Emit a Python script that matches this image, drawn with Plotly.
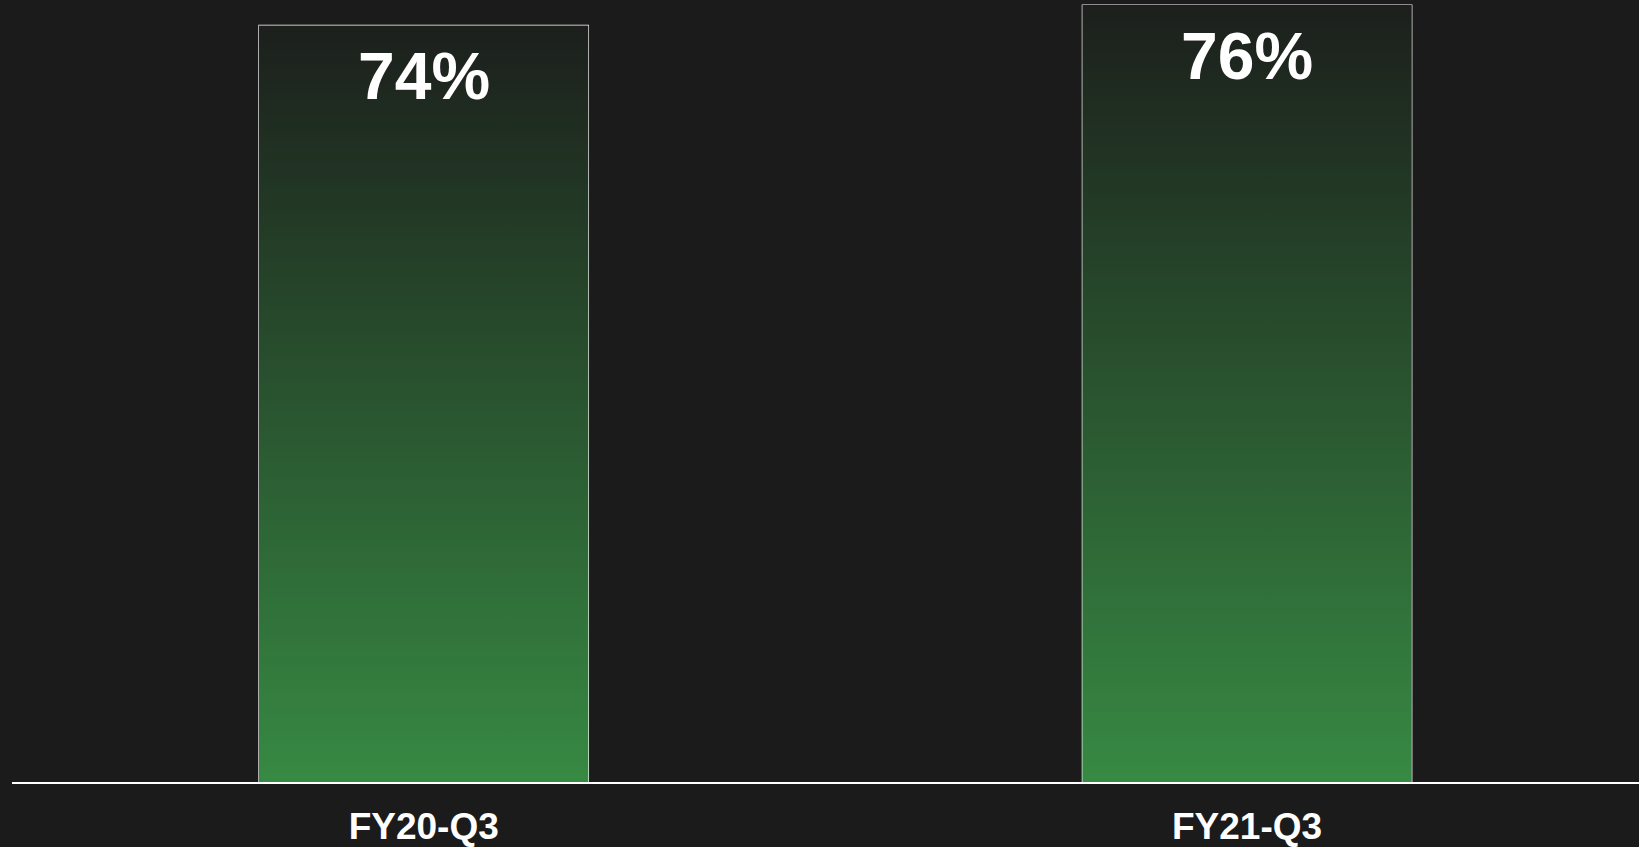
import plotly.graph_objects as go

categories = ["FY20-Q3", "FY21-Q3"]
values = [74, 76]
labels = ["74%", "76%"]

BG = "#1b1b1b"
GREEN = "#378a43"
DARK = "#1c1f1c"
BAR_W = 0.40
xpos = list(range(len(categories)))

fig = go.Figure()

# gradient fill for each bar
for i, v in zip(xpos, values):
    x0, x1 = i - BAR_W / 2, i + BAR_W / 2
    fig.add_trace(go.Scatter(
        x=[x0, x1, x1, x0, x0], y=[0, 0, v, v, 0],
        mode="lines", line=dict(width=0), fill="toself",
        fillgradient=dict(type="vertical", start=0, stop=v,
                          colorscale=[[0, GREEN], [1, DARK]]),
        hoverinfo="skip", showlegend=False,
    ))

# bar outlines
fig.add_trace(go.Bar(
    x=xpos, y=values, width=BAR_W, cliponaxis=False,
    marker=dict(color="rgba(0,0,0,0)", line=dict(color="white", width=1.3)),
    showlegend=False,
))

for i, v, t in zip(xpos, values, labels):
    fig.add_annotation(x=i, y=v, text=t, showarrow=False, yanchor="top",
                       yshift=-12,
                       font=dict(family="Liberation Sans, Arial", size=66,
                                 color="white", weight="bold"))

fig.update_layout(
    width=1639, height=847,
    paper_bgcolor=BG, plot_bgcolor=BG,
    margin=dict(l=12, r=0, t=3, b=62),
    font=dict(family="Liberation Sans, Arial", color="white"),
    xaxis=dict(range=[-0.5, 1.476], tickvals=xpos, ticktext=categories,
               showgrid=False, zeroline=False, showline=True,
               linecolor="white", linewidth=2, ticks="",
               ticklabelstandoff=11,
               tickfont=dict(size=37, color="white", weight="bold")),
    yaxis=dict(range=[0, 76.2], visible=False, showgrid=False, zeroline=False),
)

fig.write_html(
    "out.html",
    config={"displayModeBar": False},
    post_script="document.body.style.margin='0';"
                "document.body.style.background='#1b1b1b';",
)
